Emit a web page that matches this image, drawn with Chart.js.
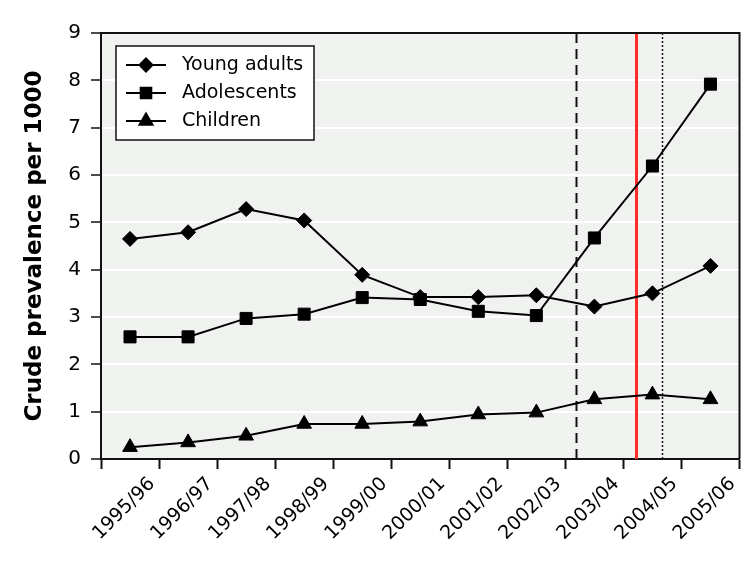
<!DOCTYPE html>
<html><head><meta charset="utf-8">
<script src="https://cdn.jsdelivr.net/npm/chart.js@4/dist/chart.umd.min.js"></script>
<style>html,body{margin:0;padding:0;background:#fff}</style>
</head><body>
<canvas id="c" width="749" height="565"></canvas>
<script>
const categories = ['1995/96','1996/97','1997/98','1998/99','1999/00','2000/01','2001/02','2002/03','2003/04','2004/05','2005/06'];
const youngAdults = [4.65, 4.79, 5.28, 5.04, 3.89, 3.42, 3.42, 3.46, 3.22, 3.50, 4.08];
const adolescents = [2.58, 2.58, 2.97, 3.06, 3.41, 3.37, 3.12, 3.03, 4.67, 6.19, 7.92];
const children = [0.25, 0.35, 0.49, 0.74, 0.74, 0.79, 0.94, 0.98, 1.26, 1.36, 1.26];
const seriesLabels = ['Young adults', 'Adolescents', 'Children'];
const yTicks = [0, 1, 2, 3, 4, 5, 6, 7, 8, 9];
// positions (in category units) of the three vertical reference lines
const refLinePositions = [7.68, 8.71, 9.16];
const refLineStyles = [
  {color: '#111', width: 2, dash: [10, 6]},
  {color: '#ff2a2a', width: 3, dash: []},
  {color: '#111', width: 1.5, dash: [2, 2]}
];

const FONT = "'DejaVu Sans', Verdana, sans-serif";

const bgPlugin = {
  id: 'bg',
  beforeDraw(chart) {
    const {ctx, chartArea: a} = chart;
    ctx.save();
    ctx.fillStyle = '#f0f2f0';
    ctx.fillRect(a.left, a.top, a.right - a.left, a.bottom - a.top);
    ctx.restore();
  }
};

const refLinesPlugin = {
  id: 'refLines',
  beforeDatasetsDraw(chart) {
    const {ctx, chartArea: a, scales: {x}} = chart;
    ctx.save();
    refLinePositions.forEach((p, i) => {
      const s = refLineStyles[i];
      const px = Math.round(x.getPixelForValue(p)) + 0.5;
      ctx.strokeStyle = s.color;
      ctx.lineWidth = s.width;
      ctx.setLineDash(s.dash);
      ctx.beginPath();
      ctx.moveTo(px, a.top);
      ctx.lineTo(px, a.bottom);
      ctx.stroke();
    });
    ctx.restore();
  }
};

const frameLegendPlugin = {
  id: 'frameLegend',
  afterDraw(chart) {
    const {ctx, chartArea: a} = chart;
    ctx.save();
    ctx.strokeStyle = '#111';
    ctx.lineWidth = 2;
    ctx.beginPath();
    ctx.moveTo(a.left, a.top);
    ctx.lineTo(a.right, a.top);
    ctx.lineTo(a.right, a.bottom);
    ctx.stroke();
    const bx = a.left + 15, by = a.top + 13, bw = 198, bh = 94;
    ctx.fillStyle = '#fff';
    ctx.fillRect(bx, by, bw, bh);
    ctx.lineWidth = 1.5;
    ctx.strokeRect(bx, by, bw, bh);
    ctx.font = '19px ' + FONT;
    ctx.textBaseline = 'middle';
    ctx.fillStyle = '#000';
    chart.data.datasets.forEach((ds, i) => {
      const yy = by + 19 + i * 28;
      ctx.lineWidth = 2;
      ctx.setLineDash([]);
      ctx.strokeStyle = '#000';
      ctx.beginPath();
      ctx.moveTo(bx + 10, yy);
      ctx.lineTo(bx + 50, yy);
      ctx.stroke();
      Chart.helpers.drawPoint(ctx, {pointStyle: ds.pointStyle, radius: ds.pointRadius - 1, borderWidth: 1, rotation: 0}, bx + 30, yy);
      ctx.fillStyle = '#000';
      ctx.fill();
      ctx.fillText(ds.label, bx + 66, yy);
    });
    ctx.restore();
  }
};

function ds(label, data, style, r) {
  return {
    label, data, pointStyle: style, pointRadius: r, pointHoverRadius: r,
    borderColor: '#000', backgroundColor: '#000', pointBackgroundColor: '#000',
    pointBorderColor: '#000', borderWidth: 2, pointBorderWidth: 1, tension: 0, fill: false
  };
}

new Chart(document.getElementById('c'), {
  type: 'line',
  data: {
    labels: categories,
    datasets: [
      ds(seriesLabels[0], youngAdults, 'rectRot', 7.5),
      ds(seriesLabels[1], adolescents, 'rect', 8.5),
      ds(seriesLabels[2], children, 'triangle', 8.5)
    ]
  },
  options: {
    responsive: false,
    devicePixelRatio: 1,
    animation: false,
    layout: {padding: {left: 0, right: 8, top: 33, bottom: 0}},
    plugins: {legend: {display: false}, tooltip: {enabled: false}},
    scales: {
      x: {
        offset: true,
        grid: {offset: true, drawOnChartArea: false, drawTicks: true, tickLength: 10, tickColor: '#111', tickWidth: 2},
        border: {color: '#111', width: 2},
        ticks: {
          color: '#000', font: {family: FONT, size: 19}, minRotation: 45, maxRotation: 45,
          autoSkip: false, labelOffset: 22, padding: 4
        },
        afterFit(s) { s.height = 106; }
      },
      y: {
        min: 0, max: 9,
        afterBuildTicks(s) { s.ticks = yTicks.map(v => ({value: v})); },
        grid: {color: '#ffffff', lineWidth: 2, drawTicks: true, tickLength: 10, tickColor: '#111', tickWidth: 1.5},
        border: {color: '#111', width: 2},
        ticks: {color: '#000', font: {family: FONT, size: 20}, padding: 10},
        title: {display: true, text: 'Crude prevalence per 1000', color: '#000',
          font: {family: FONT, size: 23, weight: 'bold'}, padding: {top: 21, bottom: 0}},
        afterFit(s) { s.width = 101; }
      }
    }
  },
  plugins: [bgPlugin, refLinesPlugin, frameLegendPlugin]
});
</script>
</body></html>
